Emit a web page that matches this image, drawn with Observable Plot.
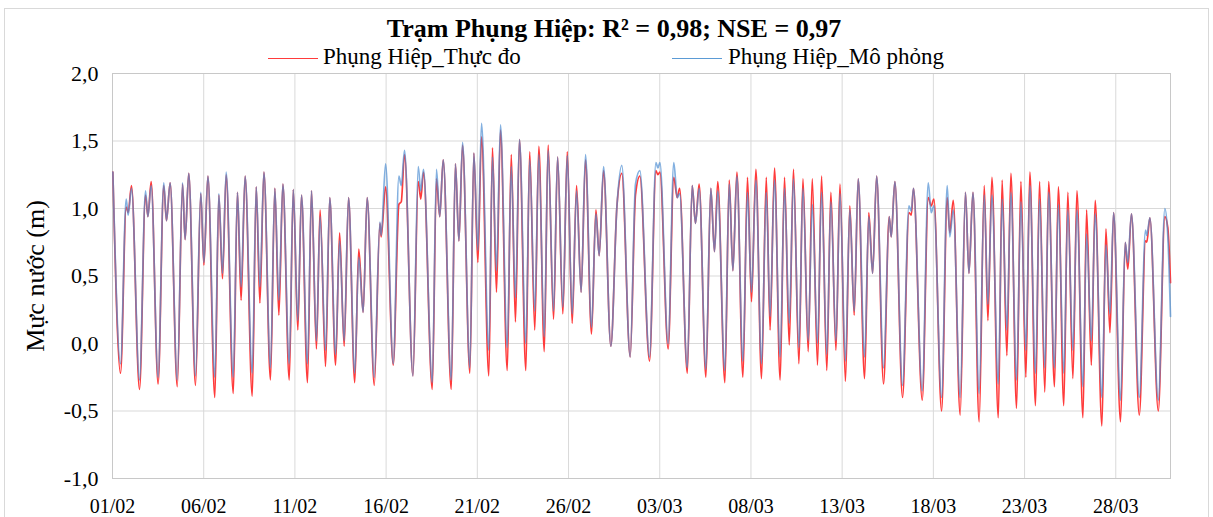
<!DOCTYPE html>
<html>
<head>
<meta charset="utf-8">
<script src="https://cdn.jsdelivr.net/npm/d3@7"></script>
<script src="https://cdn.jsdelivr.net/npm/@observablehq/plot@0.6"></script>
<style>
  body { margin: 0; background: #fff; }
  #chart { position: relative; width: 1213px; height: 517px; overflow: hidden; font-family: "Liberation Serif", "Times New Roman", serif; }
  .frame { position: absolute; left: 4px; top: 8px; width: 1205px; height: 530px; border: 1px solid #d9d9d9; box-sizing: border-box; }
  .title { position: absolute; top: 14px; left: 0; width: 1228px; text-align: center; font-weight: bold; font-size: 26px; line-height: 30px; }
  .leg { position: absolute; font-size: 23px; line-height: 26px; top: 44px; white-space: nowrap; }
  .sw { position: absolute; top: 58px; height: 0; border-top: 1.5px solid; }
  .ylab { position: absolute; left: 36px; top: 276px; font-size: 26px; transform: translate(-50%, -50%) rotate(-90deg); white-space: nowrap; }
  #plot { position: absolute; left: 0; top: 62px; }
</style>
</head>
<body>
<div id="chart">
  <div class="frame"></div>
  <div class="title">Trạm Phụng Hiệp: R² = 0,98; NSE = 0,97</div>
  <div class="sw" style="left:268px;width:50px;border-color:#ff3b3b"></div>
  <div class="leg" style="left:323px">Phụng Hiệp_Thực đo</div>
  <div class="sw" style="left:672px;width:50px;border-color:#5b9bd5"></div>
  <div class="leg" style="left:728px">Phụng Hiệp_Mô phỏng</div>
  <div class="ylab">Mực nước (m)</div>
  <div id="plot"></div>
</div>
<script>
// Time of each tidal extremum, in days after 01/02 00:00
const tDays = [
  0.02,0.44,0.75,0.86,1.04,1.48,1.81,1.94,2.12,2.50,2.81,2.96,3.16,3.55,3.84,3.98,4.18,4.55,4.84,5.01,5.23,5.61,
  5.83,6.03,6.23,6.62,6.85,7.05,7.27,7.66,7.88,8.08,8.30,8.66,8.90,9.12,9.34,9.69,9.91,10.16,10.36,10.69,10.91,11.18,
  11.38,11.68,11.91,12.23,12.45,12.70,12.94,13.28,13.50,13.74,13.96,14.35,14.66,14.73,14.97,15.39,15.70,15.83,16.01,16.47,16.76,16.90,17.05,
  17.53,17.76,17.94,18.13,18.57,18.80,18.99,19.19,19.59,19.81,20.03,20.23,20.63,20.83,21.05,21.27,21.64,21.86,22.09,22.31,22.66,
  22.87,23.15,23.37,23.67,23.88,24.18,24.40,24.69,24.93,25.20,25.44,25.69,25.93,26.26,26.50,26.68,26.92,27.32,27.65,27.92,28.38,
  28.67,28.91,29.44,29.79,29.90,30.01,30.46,30.77,30.96,31.09,31.51,31.78,31.96,32.16,32.53,32.80,33.00,33.18,33.57,33.81,34.01,34.23,
  34.56,34.81,35.03,35.27,35.58,35.84,36.05,36.29,36.60,36.84,37.10,37.33,37.63,37.85,38.14,38.36,38.65,38.87,39.16,39.38,39.66,39.88,
  40.18,40.42,40.66,40.88,41.23,41.46,41.67,41.89,42.27,42.58,42.69,42.89,43.31,43.66,43.79,43.91,44.39,44.72,44.88,45.03,45.45,45.76,45.90,46.09,
  46.47,46.76,46.95,47.17,47.51,47.79,47.99,48.21,48.56,48.77,49.03,49.25,49.56,49.80,50.07,50.29,50.60,50.82,51.11,51.32,
  51.64,51.85,52.15,52.37,52.65,52.87,53.20,53.40,53.66,53.87,54.24,54.46,54.68,54.88,55.26,55.52,55.66,55.86,56.29,56.63,56.70,56.87,57.33,57.69,57.85,58.00
];
// Phụng Hiệp_Thực đo (observed), m
const observed = [
  1.27,-0.22,1.01,0.97,1.17,-0.34,1.10,0.94,1.20,-0.30,1.17,0.91,1.19,-0.32,1.18,0.77,1.26,-0.31,1.11,0.58,1.24,-0.40,
  1.10,0.48,1.25,-0.37,1.12,0.32,1.24,-0.39,1.16,0.30,1.27,-0.27,1.15,0.21,1.18,-0.27,1.14,0.10,1.10,-0.29,1.13,-0.04,
  0.99,-0.17,1.08,-0.16,0.82,-0.02,1.08,-0.29,0.70,0.23,1.08,-0.31,0.89,0.79,1.16,-0.16,1.03,1.05,1.40,-0.24,1.20,1.07,1.27,
  -0.34,1.22,0.94,1.36,-0.34,1.33,0.76,1.47,-0.22,1.41,0.60,1.53,-0.24,1.45,0.38,1.58,-0.20,1.40,0.16,1.51,-0.20,
  1.42,0.10,1.46,-0.06,1.47,0.18,1.38,0.22,1.42,0.15,1.17,0.38,1.36,0.07,0.99,0.65,1.28,-0.02,1.01,1.26,-0.10,
  1.10,1.24,-0.13,1.28,1.25,1.27,-0.04,1.23,1.08,1.15,-0.22,1.17,0.89,1.18,-0.25,1.15,0.68,1.20,-0.29,1.21,0.54,1.27,
  -0.25,1.23,0.31,1.29,-0.26,1.23,0.10,1.30,-0.27,1.23,-0.01,1.29,-0.15,1.22,-0.06,1.22,-0.16,1.24,-0.20,1.12,-0.05,1.18,
  -0.28,1.02,0.21,1.22,-0.26,0.97,0.52,1.24,-0.30,0.94,0.79,1.20,-0.40,0.97,0.95,1.15,-0.42,1.08,1.02,1.07,-0.50,1.08,0.82,1.06,
  -0.53,1.12,0.52,1.12,-0.58,1.17,0.17,1.23,-0.55,1.21,-0.09,1.26,-0.48,1.20,-0.25,1.27,-0.46,1.20,-0.36,1.20,
  -0.32,1.16,-0.46,1.12,-0.26,1.13,-0.55,0.99,-0.16,1.06,-0.61,0.85,0.08,0.97,-0.58,0.75,0.55,0.96,-0.53,0.76,0.75,0.93,-0.50,0.94,0.86,0.45
];
// Phụng Hiệp_Mô phỏng (simulated), m
const simulated = [
  1.27,-0.15,1.07,0.95,1.15,-0.27,1.13,0.94,1.17,-0.25,1.19,0.91,1.19,-0.27,1.19,0.77,1.26,-0.24,1.12,0.60,1.24,-0.25,
  1.11,0.52,1.27,-0.25,1.12,0.42,1.24,-0.22,1.16,0.42,1.27,-0.18,1.15,0.32,1.18,-0.15,1.14,0.17,1.10,-0.15,1.13,0.02,
  0.94,-0.05,1.08,-0.08,0.76,0.02,1.08,-0.22,0.64,0.23,1.08,-0.25,0.90,0.80,1.33,-0.15,1.24,1.17,1.43,-0.24,1.31,1.13,1.29,
  -0.29,1.29,0.94,1.36,-0.27,1.33,0.76,1.49,-0.18,1.41,0.69,1.63,-0.05,1.38,0.54,1.62,-0.03,1.31,0.34,1.51,0.00,
  1.36,0.24,1.40,0.05,1.43,0.24,1.38,0.27,1.39,0.22,1.13,0.38,1.40,0.12,0.96,0.65,1.31,-0.02,1.01,1.32,-0.10,
  1.18,1.28,-0.10,1.34,1.30,1.34,0.00,1.34,1.08,1.11,-0.18,1.17,0.89,1.15,-0.19,1.15,0.68,1.13,-0.20,1.18,0.54,1.24,
  -0.13,1.12,0.38,1.21,-0.15,1.12,0.20,1.21,-0.10,1.15,0.15,1.22,-0.03,1.15,0.02,1.03,0.00,1.12,-0.08,1.05,0.02,1.11,
  -0.13,0.99,0.24,1.22,-0.10,0.94,0.52,1.24,-0.18,0.94,0.79,1.20,-0.31,1.02,0.98,1.15,-0.35,1.19,0.97,1.02,-0.40,1.17,0.79,0.99,
  -0.40,1.12,0.52,1.12,-0.37,1.10,0.29,1.10,-0.30,1.07,0.10,1.12,-0.27,1.05,-0.05,1.17,-0.22,1.07,-0.18,1.12,
  -0.18,1.03,-0.22,0.99,-0.05,0.99,-0.32,0.81,0.02,0.96,-0.40,0.73,0.22,0.97,-0.42,0.75,0.60,0.96,-0.40,0.84,0.80,0.93,-0.42,1.00,0.80,0.20
];
const xTickLabels = ["01/02","06/02","11/02","16/02","21/02","26/02","03/03","08/03","13/03","18/03","23/03","28/03"];
const yTicks = [-1, -0.5, 0, 0.5, 1, 1.5, 2];
const yTickLabels = ["-1,0","-0,5","0,0","0,5","1,0","1,5","2,0"];

const YEAR = 2019;
const start = Date.UTC(YEAR, 1, 1);
const toDate = s => { const [d, m] = s.split("/").map(Number); return new Date(Date.UTC(YEAR, m - 1, d)); };
const xTicks = xTickLabels.map(toDate);
const data = tDays.map((t, i) => ({date: new Date(start + t * 864e5), obs: observed[i], sim: simulated[i]}));

const chart = Plot.plot({
  width: 1213,
  height: 455,
  marginLeft: 112,
  marginRight: 43,
  marginTop: 11,
  marginBottom: 39,
  style: {fontFamily: "'Liberation Serif', 'Times New Roman', serif", fontSize: "20px", color: "#000", background: "transparent", overflow: "visible"},
  x: {type: "utc", domain: [new Date(start), new Date(Date.UTC(YEAR, 2, 31))]},
  y: {domain: [-1, 2]},
  marks: [
    Plot.gridY({ticks: yTicks, stroke: "#d9d9d9", strokeOpacity: 1}),
    Plot.gridX({ticks: xTicks, stroke: "#d9d9d9", strokeOpacity: 1}),
    Plot.frame({stroke: "#c8c8c8"}),
    Plot.line(data, {x: "date", y: "obs", stroke: "#ff3b3b", strokeWidth: 1.7, curve: "monotone-x"}),
    Plot.line(data, {x: "date", y: "sim", stroke: "#4f8fd3", strokeWidth: 1.7, strokeOpacity: 0.7, curve: "monotone-x"}),
    Plot.axisY({ticks: yTicks, tickSize: 0, tickPadding: 14, fontSize: 22, label: null,
      tickFormat: d => yTickLabels[yTicks.indexOf(d)]}),
    Plot.axisX({ticks: xTicks, tickSize: 0, tickPadding: 20, fontSize: 20, label: null,
      tickFormat: d => xTickLabels[xTicks.findIndex(t => +t === +d)]})
  ]
});
document.getElementById("plot").appendChild(chart);
</script>
</body>
</html>
